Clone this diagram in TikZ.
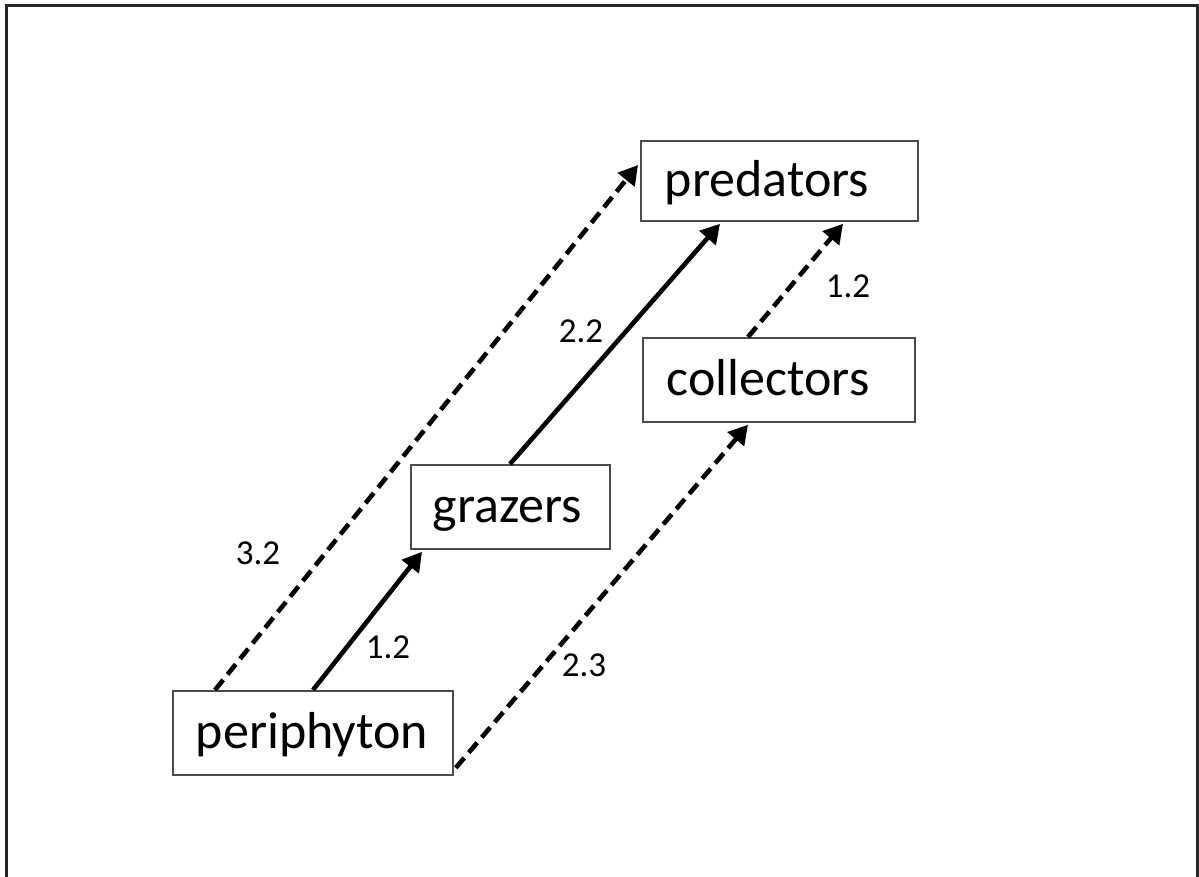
\documentclass[tikz,border=0pt]{standalone}
\usepackage{fontspec}
\setmainfont{Carlito}
\usetikzlibrary{arrows.meta}
\tikzset{
  box/.style={draw=black!70, line width=1.8pt, rectangle, anchor=north west, align=left,
    inner xsep=24pt, inner ysep=0pt, text height=40pt, text depth=8pt,
    font=\fontsize{52}{60}\selectfont},
  lbl/.style={font=\fontsize{35}{40}\selectfont, inner sep=0pt},
  flow/.style={line width=4.6pt, -{Triangle[length=19pt,width=21pt]}},
  dflow/.style={flow, dash pattern=on 13pt off 7pt},
}
\begin{document}
\begin{tikzpicture}[x=1pt,y=-1pt]
\clip (0,0) rectangle (1199,877);
\draw[line width=2.2pt, black!85] (6.5,5.5) rectangle (1197.5,900);
\node[box, minimum width=277pt, minimum height=80pt, text width=229pt] (pred) at (640,140) {predators};
\node[box, minimum width=272pt, minimum height=84pt, text width=224pt] (coll) at (642,337) {collectors};
\node[box, minimum width=199pt, minimum height=84pt, text width=155pt, inner xsep=22pt] (graz) at (410,464) {grazers};
\node[box, minimum width=280pt, minimum height=84pt, text width=234pt, inner xsep=23pt] (peri) at (172,690) {periphyton};
\draw[dflow] ([xshift=43pt]peri.north west) -- ([xshift=-2pt,yshift=-25pt]pred.north west);
\draw[flow] ([xshift=141pt]peri.north west) -- ([xshift=12pt,yshift=-2pt]graz.south west);
\draw[flow] ([xshift=100pt]graz.north west) -- ([xshift=80pt,yshift=-2pt]pred.south west);
\draw[dflow] ([xshift=106pt]coll.north west) -- ([xshift=203pt,yshift=-2pt]pred.south west);
\draw[dflow] ([xshift=2pt,yshift=8pt]peri.south east) -- ([xshift=106pt,yshift=-2pt]coll.south west);
\node[lbl] (l32) at (258,553) {3.2};
\node[lbl] (l12a) at (388,647) {1.2};
\node[lbl] (l22) at (581,331) {2.2};
\node[lbl] (l12b) at (848,286) {1.2};
\node[lbl] (l23) at (584,665) {2.3};
\end{tikzpicture}
\end{document}
